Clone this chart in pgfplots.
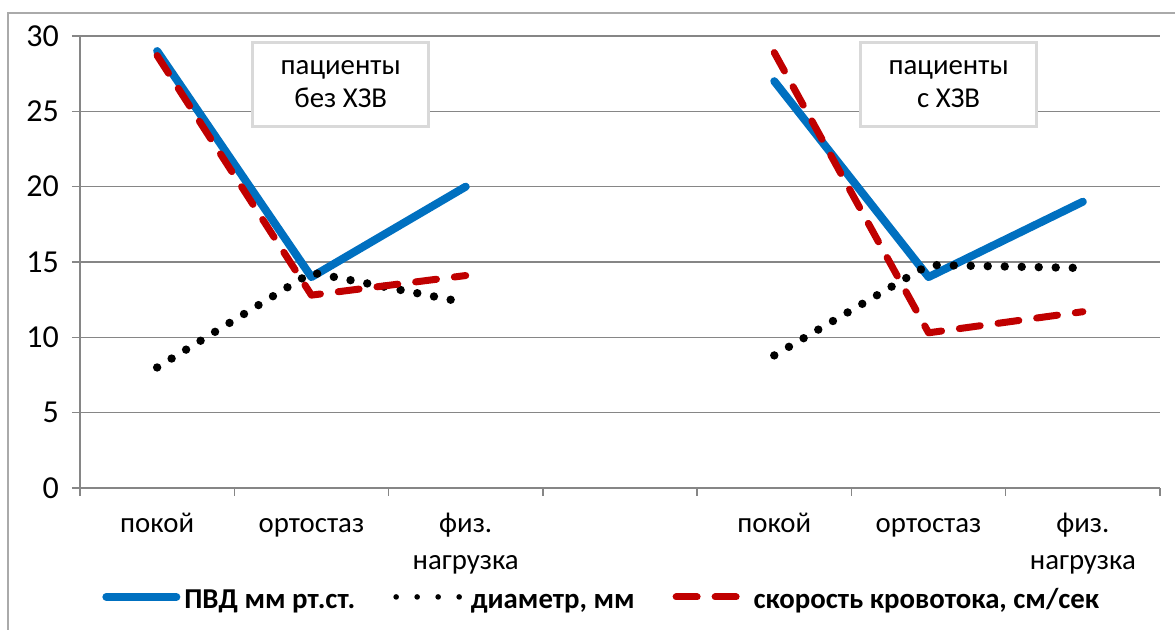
\documentclass[border=0pt]{standalone}
\usepackage{fontspec}
\setmainfont{Carlito}
\usepackage{pgfplots}
\pgfplotsset{compat=1.18}
\definecolor{pvd}{HTML}{0070C0}
\definecolor{spd}{HTML}{C00000}
\definecolor{axgray}{HTML}{868686}
\definecolor{boxgray}{HTML}{D9D9D9}
\newcommand{\lblfont}{\fontsize{14.4}{18.5}\selectfont}
\begin{document}
\begin{tikzpicture}
\useasboundingbox (0,0) rectangle (587.5pt,315pt);
\draw[axgray!70, line width=0.75pt] (4pt,0) -- (4pt,308.5pt) -- (587.5pt,308.5pt);
\begin{axis}[
  at={(40pt,71pt)}, anchor=south west,
  scale only axis, width=540pt, height=226pt,
  xmin=-0.5, xmax=6.5, ymin=0, ymax=30,
  axis x line*=bottom, axis y line*=left,
  axis line style={axgray, line width=0.75pt},
  ytick={0,5,...,30}, ymajorgrids, grid style={axgray, line width=0.75pt},
  tick style={axgray, line width=0.75pt}, major tick length=4pt, tick align=outside,
  yticklabel={\pgfmathprintnumber{\tick}},
  yticklabel style={font=\fontsize{16}{19}\selectfont, text=black, xshift=-3pt},
  xtick={-0.5,0.5,...,6.5}, xticklabels={},
  extra x ticks={0,1,2,4,5,6},
  extra x tick labels={\strut покой, \strut ортостаз, {\strut физ.\\нагрузка}, \strut покой, \strut ортостаз, {\strut физ.\\нагрузка}},
  extra x tick style={major tick length=0pt, grid=none,
     xticklabel style={font=\lblfont, black, align=center, anchor=north, yshift=-6pt}},
  /pgf/number format/assume math mode=true,
  unbounded coords=jump,
  legend style={at={(0.484,-0.241)}, anchor=center, draw=none, fill=none,
     legend columns=3, font=\bfseries\lblfont,
     /tikz/every even column/.append style={column sep=17pt},
     inner sep=0pt, nodes={inner sep=2pt}},
  legend image code/.code={\draw[#1] (0pt,0pt) -- (35pt,0pt);},
]
\addplot[pvd, line width=4pt, line cap=round, line join=round] coordinates {(0,29) (1,14) (2,20) (3,nan) (4,27) (5,14) (6,19)};
\addlegendentry{\strut ПВД мм рт.ст.}
\addplot[black, line width=4.2pt, line cap=round, dash pattern=on 0pt off 8.5pt,
  legend image code/.code={\draw[black, line width=2.8pt, line cap=round, dash pattern=on 0pt off 10.5pt] (2pt,0pt) -- (36pt,0pt);}] coordinates {(0,8.0) (1,14.3) (2,12.3) (3,nan) (4,8.8) (5,14.8) (6,14.6)};
\addlegendentry{\strut диаметр, мм}
\addplot[spd, line width=3.5pt, line cap=round, line join=round, dash pattern=on 10.5pt off 9pt] coordinates {(0,28.7) (1,12.8) (2,14.1) (3,nan) (4,28.9) (5,10.3) (6,11.7)};
\addlegendentry{\strut скорость кровотока, см/сек}
\node[draw=boxgray, line width=1.5pt, fill=white, minimum width=88pt, minimum height=42pt, align=center, font=\fontsize{14.4}{16.5}\selectfont] at (axis cs:1.19,26.8) {пациенты\\без ХЗВ};
\node[draw=boxgray, line width=1.5pt, fill=white, minimum width=88pt, minimum height=42pt, align=center, font=\fontsize{14.4}{16.5}\selectfont] at (axis cs:5.13,26.8) {пациенты\\с ХЗВ};
\end{axis}
\end{tikzpicture}
\end{document}
